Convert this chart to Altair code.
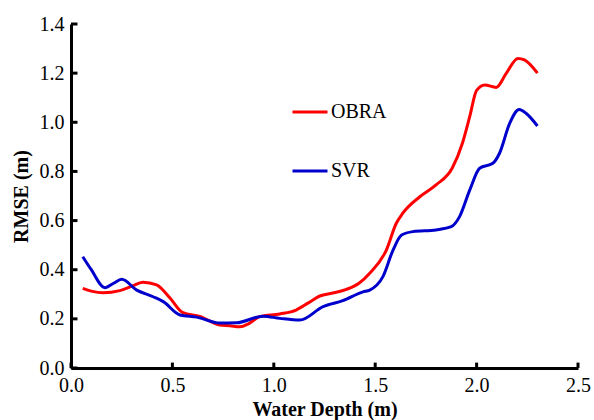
import altair as alt
import pandas as pd

obra_x = [0.058, 0.10, 0.158, 0.241, 0.30, 0.355, 0.422, 0.488, 0.552, 0.635, 0.734, 0.783,
          0.833, 0.875, 0.93, 1.03, 1.11, 1.17, 1.227, 1.29, 1.358, 1.42, 1.473, 1.555,
          1.604, 1.636, 1.72, 1.80, 1.88, 1.93, 1.966, 2.0, 2.04, 2.097, 2.146, 2.204,
          2.236, 2.30]
obra_y = [0.324, 0.313, 0.306, 0.315, 0.333, 0.349, 0.338, 0.285, 0.225, 0.21, 0.175, 0.172,
          0.168, 0.18, 0.209, 0.22, 0.236, 0.265, 0.293, 0.305, 0.32, 0.345, 0.386, 0.48,
          0.589, 0.63, 0.697, 0.745, 0.814, 0.915, 1.023, 1.13, 1.152, 1.142, 1.199, 1.26,
          1.254, 1.20]

svr_x = [0.058, 0.10, 0.167, 0.21, 0.25, 0.324, 0.405, 0.455, 0.537, 0.62, 0.734, 0.816,
         0.947, 1.03, 1.128, 1.243, 1.34, 1.44, 1.473, 1.538, 1.588, 1.63, 1.686, 1.80,
         1.875, 1.916, 1.966, 2.015, 2.08, 2.113, 2.163, 2.21, 2.245, 2.30]
svr_y = [0.453, 0.40, 0.327, 0.345, 0.361, 0.317, 0.29, 0.27, 0.216, 0.207, 0.183, 0.184,
         0.211, 0.202, 0.195, 0.25, 0.274, 0.31, 0.317, 0.372, 0.48, 0.541, 0.555, 0.562,
         0.575, 0.616, 0.724, 0.813, 0.833, 0.874, 0.996, 1.052, 1.036, 0.985]

x_ticks = [0.0, 0.5, 1.0, 1.5, 2.0, 2.5]
y_ticks = [0.0, 0.2, 0.4, 0.6, 0.8, 1.0, 1.2, 1.4]

series_names = ["OBRA", "SVR"]
series_colors = ["#ff0000", "#0000cc"]

FONT = "Liberation Serif"
W, H = 507, 344

df = pd.concat([
    pd.DataFrame({"depth": obra_x, "rmse": obra_y, "model": "OBRA", "order": range(len(obra_x))}),
    pd.DataFrame({"depth": svr_x, "rmse": svr_y, "model": "SVR", "order": range(len(svr_x))}),
])

xscale = alt.Scale(domain=[0, 2.5], nice=False, zero=False, padding=0)
yscale = alt.Scale(domain=[0, 1.4], nice=False, zero=False, padding=0)

axis_style = dict(grid=False, ticks=False, domainColor="black", domainWidth=3,
                  labelFont=FONT, labelFontSize=20, labelColor="black",
                  titleFont=FONT, titleFontSize=20, titleFontWeight="bold",
                  titleColor="black", labelPadding=7, labelFlush=False)

lines = alt.Chart(df).mark_line(strokeWidth=3, interpolate="monotone").encode(
    x=alt.X("depth:Q", scale=xscale,
            axis=alt.Axis(title="Water Depth (m)", values=x_ticks, format=".1f",
                          titlePadding=4, **axis_style)),
    y=alt.Y("rmse:Q", scale=yscale,
            axis=alt.Axis(title="RMSE (m)", values=y_ticks, format=".1f",
                          titlePadding=8, **axis_style)),
    color=alt.Color("model:N",
                    scale=alt.Scale(domain=series_names, range=series_colors),
                    legend=alt.Legend(title=None, orient="none", legendX=220, legendY=69,
                                      symbolType="stroke", symbolSize=1225,
                                      symbolStrokeWidth=3, labelFontSize=20,
                                      labelFont=FONT, labelColor="black",
                                      rowPadding=30, labelOffset=2, padding=0)),
    order="order:Q",
)

# inward tick marks (short rules from the axis line into the plot)
xt = alt.Chart(pd.DataFrame({"t": x_ticks})).mark_rule(
    color="black", strokeWidth=3, clip=False).encode(
    x=alt.X("t:Q", scale=xscale),
    y=alt.datum(0.0, scale=yscale),
    y2=alt.datum(0.022),
)
yt = alt.Chart(pd.DataFrame({"t": y_ticks})).mark_rule(
    color="black", strokeWidth=3, clip=False).encode(
    y=alt.Y("t:Q", scale=yscale),
    x=alt.datum(0.0, scale=xscale),
    x2=alt.datum(0.032),
)

chart = alt.layer(lines, xt, yt).properties(
    width=W, height=H,
    autosize=alt.AutoSizeParams(type="none"),
    padding={"left": 71, "top": 24, "right": 16, "bottom": 52},
).configure_view(stroke=None)

chart.save("out.html", embed_options={"renderer": "svg", "actions": False})
